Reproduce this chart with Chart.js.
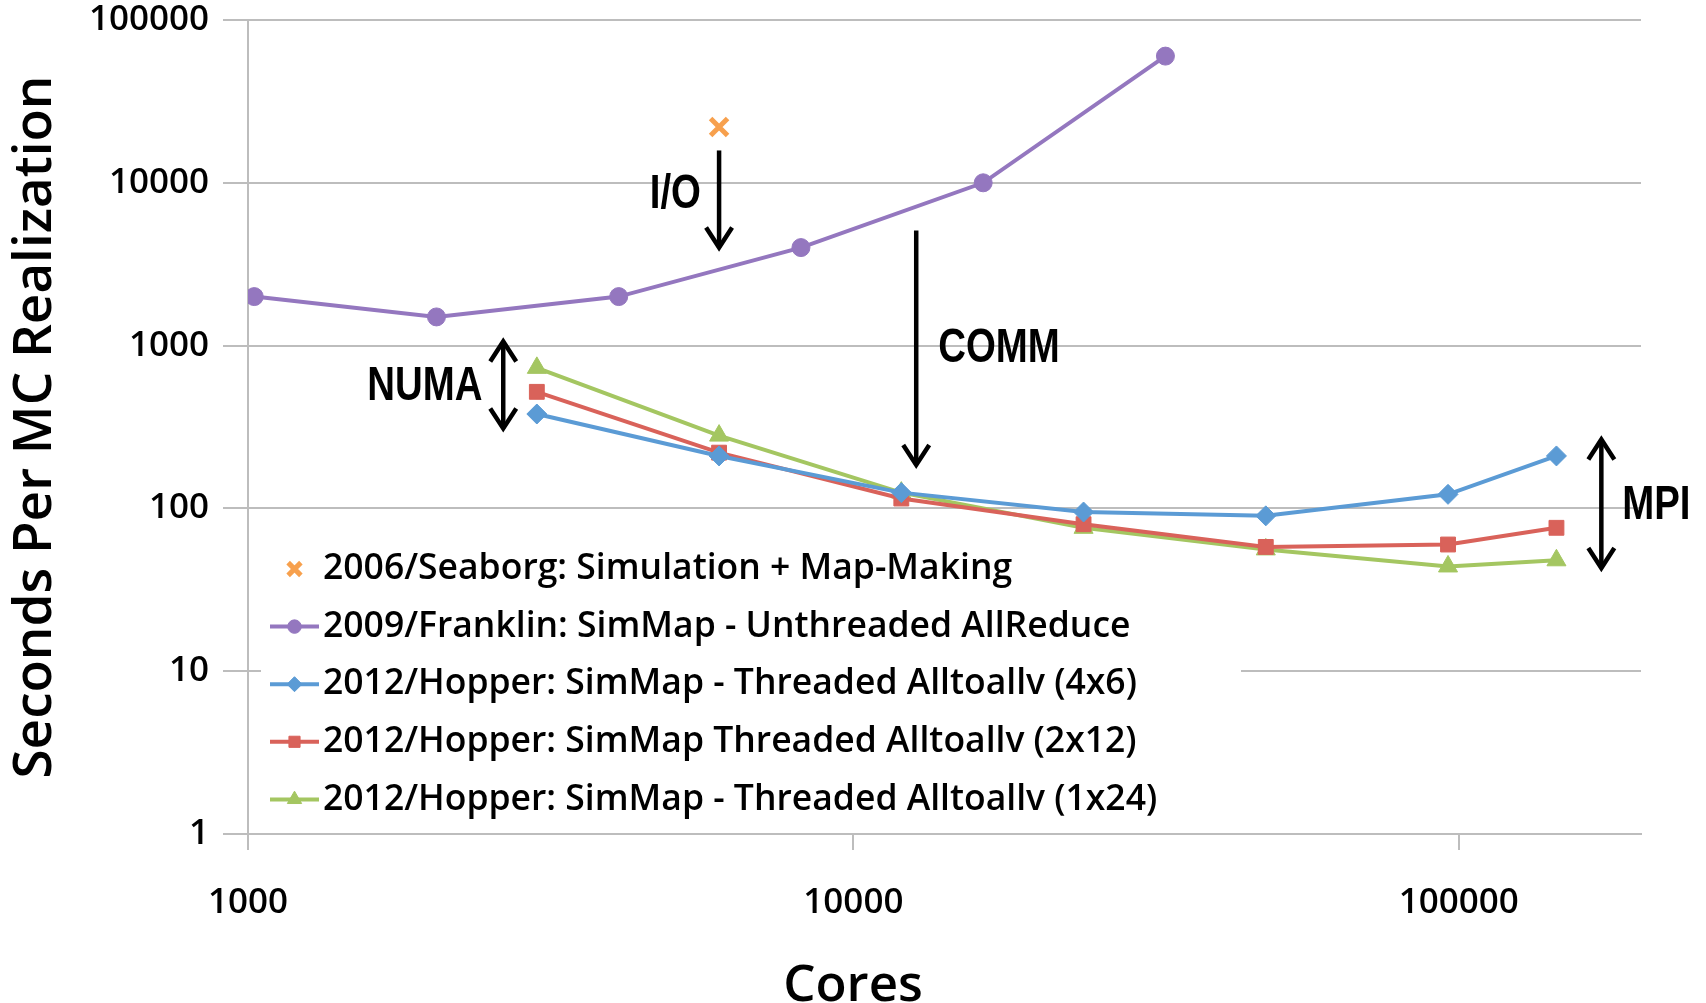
<!DOCTYPE html>
<html>
<head>
<meta charset="utf-8">
<script src="https://cdn.jsdelivr.net/npm/chart.js@4.4.1/dist/chart.umd.min.js"></script>
<style>
  html, body { margin: 0; padding: 0; background: #fff; }
  #wrap { width: 1706px; height: 1003px; position: relative; }
</style>
</head>
<body>
<div id="wrap"><canvas id="chart"></canvas></div>
<script>
// --- data ---
const seaborgCores = [6000];
const seaborgSecs = [22000];

const franklinCores = [1024, 2048, 4096, 8192, 16384, 32768];
const franklinSecs = [2000, 1500, 2000, 4000, 10000, 60000];

const hopperCores = [3000, 6000, 12000, 24000, 48000, 96000, 145000];
const hopper4x6 = [380, 210, 125, 95, 90, 122, 210];
const hopper2x12 = [520, 220, 115, 80, 58, 60, 76];
const hopper1x24 = [730, 280, 125, 76, 56, 44, 48];

const seriesNames = [
    '2006/Seaborg: Simulation + Map-Making',
    '2009/Franklin: SimMap - Unthreaded AllReduce',
    '2012/Hopper: SimMap - Threaded Alltoallv (4x6)',
    '2012/Hopper: SimMap Threaded Alltoallv (2x12)',
    '2012/Hopper: SimMap - Threaded Alltoallv (1x24)'
];

const xTicks = [1000, 10000, 100000];
const xTickLabels = ['1000', '10000', '100000'];
const yTicks = [1, 10, 100, 1000, 10000, 100000];
const yTickLabels = ['1', '10', '100', '1000', '10000', '100000'];

// annotations in data units: [x, yFrom, yTo]
const arrowIO = [6000, 15800, 4000];
const arrowCOMM = [12700, 5100, 185];
const arrowNUMA = [2640, 1060, 310];
const arrowMPI = [172000, 265, 43];
// labels: [text, x, y]
const notes = [
    ['I/O', 5080, 8500],
    ['COMM', 17400, 960],
    ['NUMA', 1960, 560],
    ['MPI', 212000, 104]
];

const pts = (xs, ys) => xs.map((x, i) => ({ x: x, y: ys[i] }));

const GRID = '#bdbdbd';
const TXT = '#000';
const FONT = '"Open Sans"';

function arrowHead(ctx, x, y, dir) {
    // open chevron, dir = 1 points down, -1 points up
    ctx.beginPath();
    ctx.moveTo(x - 13, y - dir * 20);
    ctx.lineTo(x, y);
    ctx.lineTo(x + 13, y - dir * 20);
    ctx.stroke();
}

const extras = {
    id: 'extras',
    beforeDatasetsDraw(chart) {
        const ctx = chart.ctx;
        const area = chart.chartArea;
        // legend box inside plot area, lower left
        const boxL = area.left + 13, boxR = 1241, boxT = 538, boxB = area.bottom - 7;
        ctx.save();
        ctx.fillStyle = '#fff';
        ctx.fillRect(boxL, boxT, boxR - boxL, boxB - boxT);
        ctx.font = '600 35.5px ' + FONT;
        ctx.textBaseline = 'middle';
        chart.data.datasets.forEach((ds, i) => {
            const y = 569 + i * 57.6;
            const mx = 294.5;
            ctx.strokeStyle = ds.borderColor;
            ctx.fillStyle = ds.backgroundColor;
            if (ds.showLine !== false) {
                ctx.lineWidth = 4;
                ctx.beginPath();
                ctx.moveTo(270, y);
                ctx.lineTo(319, y);
                ctx.stroke();
            }
            ctx.lineWidth = ds.pointBorderWidth || 1;
            Chart.helpers.drawPoint(ctx, {
                pointStyle: ds.pointStyle,
                radius: ds.pointRadius * 0.75,
                rotation: 0,
                borderWidth: ds.pointBorderWidth || 1
            }, mx, y);
            ctx.fillStyle = TXT;
            ctx.fillText(ds.label, 323, y);
        });
        ctx.restore();
    },
    afterDraw(chart) {
        const ctx = chart.ctx;
        const xs = chart.scales.x, ys = chart.scales.y;
        ctx.save();
        ctx.strokeStyle = '#000';
        ctx.lineWidth = 4.5;
        ctx.lineCap = 'butt';
        ctx.lineJoin = 'miter';
        // single arrows pointing down
        [arrowIO, arrowCOMM].forEach(a => {
            const x = xs.getPixelForValue(a[0]);
            const y1 = ys.getPixelForValue(a[1]);
            const y2 = ys.getPixelForValue(a[2]);
            ctx.beginPath();
            ctx.moveTo(x, y1);
            ctx.lineTo(x, y2);
            ctx.stroke();
            arrowHead(ctx, x, y2, 1);
        });
        // double arrows
        [arrowNUMA, arrowMPI].forEach(a => {
            const x = xs.getPixelForValue(a[0]);
            const y1 = ys.getPixelForValue(a[1]);
            const y2 = ys.getPixelForValue(a[2]);
            ctx.beginPath();
            ctx.moveTo(x, y1);
            ctx.lineTo(x, y2);
            ctx.stroke();
            arrowHead(ctx, x, y1, -1);
            arrowHead(ctx, x, y2, 1);
        });
        // condensed bold labels: squeeze Liberation Sans bold horizontally
        ctx.fillStyle = '#000';
        ctx.font = 'bold 48px "Liberation Sans"';
        ctx.textAlign = 'center';
        ctx.textBaseline = 'middle';
        notes.forEach(n => {
            const px = xs.getPixelForValue(n[1]);
            const py = ys.getPixelForValue(n[2]);
            ctx.save();
            ctx.translate(px, py);
            ctx.scale(0.8, 1);
            ctx.fillText(n[0], 0, 0);
            ctx.restore();
        });
        // x axis title, centred on the whole picture
        ctx.font = '600 51px ' + FONT;
        ctx.fillText('Cores', chart.width / 2, 986);
        ctx.restore();
    }
};

new Chart(document.getElementById('chart'), {
    type: 'line',
    data: {
        datasets: [
            {
                label: seriesNames[0],
                data: pts(seaborgCores, seaborgSecs),
                showLine: false,
                borderColor: '#f7a04d',
                backgroundColor: '#f7a04d',
                pointStyle: 'crossRot',
                pointRadius: 12,
                pointBorderWidth: 5
            },
            {
                label: seriesNames[1],
                data: pts(franklinCores, franklinSecs),
                borderColor: '#9477bf',
                backgroundColor: '#9477bf',
                borderWidth: 4,
                pointStyle: 'circle',
                pointRadius: 9,
                pointBorderWidth: 1
            },
            {
                label: seriesNames[2],
                data: pts(hopperCores, hopper4x6),
                borderColor: '#5b9bd5',
                backgroundColor: '#5b9bd5',
                borderWidth: 4,
                pointStyle: 'rectRot',
                pointRadius: 10,
                pointBorderWidth: 1
            },
            {
                label: seriesNames[3],
                data: pts(hopperCores, hopper2x12),
                borderColor: '#d9625a',
                backgroundColor: '#d9625a',
                borderWidth: 4,
                pointStyle: 'rect',
                pointRadius: 10.5,
                pointBorderWidth: 1
            },
            {
                label: seriesNames[4],
                data: pts(hopperCores, hopper1x24),
                borderColor: '#a4c661',
                backgroundColor: '#a4c661',
                borderWidth: 4,
                pointStyle: 'triangle',
                pointRadius: 11,
                pointBorderWidth: 1
            }
        ]
    },
    options: {
        responsive: true,
        maintainAspectRatio: false,
        animation: false,
        layout: { padding: { top: 20, right: 65, left: 0, bottom: 0 } },
        plugins: { legend: { display: false }, tooltip: { enabled: false } },
        elements: { line: { tension: 0 } },
        scales: {
            x: {
                type: 'logarithmic',
                min: 1000,
                max: 200000,
                afterBuildTicks: s => { s.ticks = xTicks.map(v => ({ value: v })); },
                afterFit: s => { s.height = 169; s.paddingLeft = 0; s.paddingRight = 0; },
                ticks: {
                    autoSkip: false,
                    maxRotation: 0,
                    padding: 32,
                    color: TXT,
                    font: { family: 'Open Sans', size: 35, weight: 600 },
                    callback: (v) => xTickLabels[xTicks.indexOf(v)] ?? ''
                },
                grid: { drawOnChartArea: false, drawTicks: true, tickLength: 16, color: GRID, lineWidth: 2 },
                border: { color: GRID, width: 2 }
            },
            y: {
                type: 'logarithmic',
                min: 1,
                max: 100000,
                afterBuildTicks: s => { s.ticks = yTicks.map(v => ({ value: v })); },
                afterFit: s => { s.width = 248; s.paddingTop = 0; s.paddingBottom = 0; },
                ticks: {
                    autoSkip: false,
                    padding: 14,
                    color: TXT,
                    font: { family: 'Open Sans', size: 35, weight: 600 },
                    callback: (v) => yTickLabels[yTicks.indexOf(v)] ?? ''
                },
                grid: { color: GRID, lineWidth: 2, tickLength: 25 },
                border: { color: GRID, width: 2 },
                title: {
                    display: true,
                    text: 'Seconds Per MC Realization',
                    color: TXT,
                    font: { family: 'Open Sans', size: 53, weight: 600 },
                    padding: { top: 4, bottom: 0 }
                }
            }
        }
    },
    plugins: [extras]
});
</script>
</body>
</html>
